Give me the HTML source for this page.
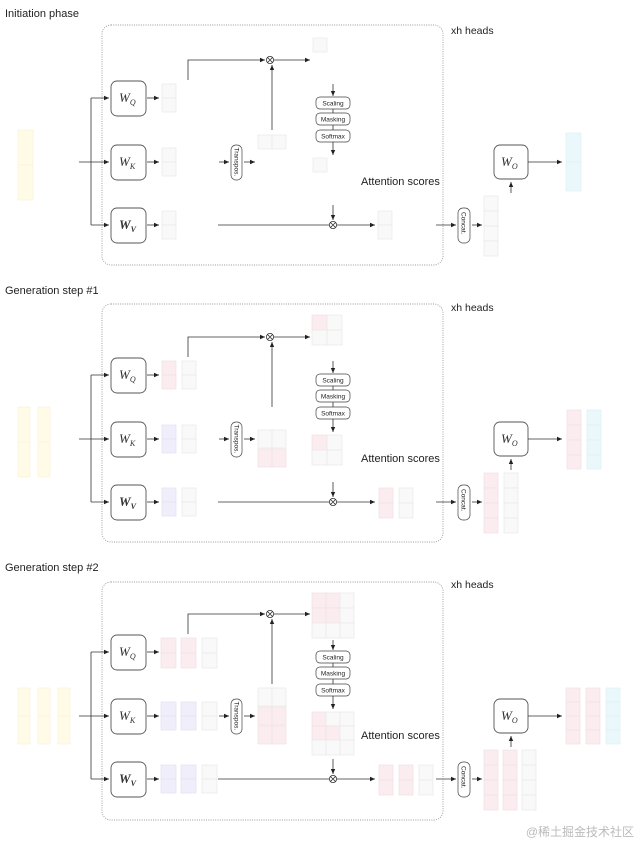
<!DOCTYPE html>
<html><head><meta charset="utf-8"><style>
html,body{margin:0;padding:0;background:#fff;}
svg{display:block}
text{font-family:"Liberation Sans",sans-serif;fill:#222}
.w{fill:#f9f9f9;stroke:#e8e8e8;stroke-width:.7}
.r{fill:#fbedef;stroke:#f0e2e4;stroke-width:.7}
.p{fill:#f0eefa;stroke:#e4e1f0;stroke-width:.7}
.y{fill:#fffbe6;stroke:#f8f3dc;stroke-width:.7}
.cy{fill:#eaf8fb;stroke:#dcf0f3;stroke-width:.7}
.ln{stroke:#333;stroke-width:.8;fill:none}
.bx{fill:#fff;stroke:#555;stroke-width:.9}
.sb{fill:#fff;stroke:#444;stroke-width:.7}
.dot{fill:none;stroke:#999;stroke-width:.9;stroke-dasharray:1,1.3}
.wt{font-family:"Liberation Serif",serif;font-style:italic;font-size:13px;fill:#333}
.st{font-size:6.5px}
</style></head><body>
<svg width="640" height="844" viewBox="0 0 640 844" xmlns="http://www.w3.org/2000/svg">
<defs>
<marker id="a" markerWidth="6" markerHeight="6" refX="5" refY="3" orient="auto" markerUnits="userSpaceOnUse"><path d="M0,0.8 L5,3 L0,5.2z" fill="#222"/></marker>
</defs>

<!-- ============ PANEL 1 ============ -->
<g>
<text x="5" y="17" font-size="11">Initiation phase</text>
<rect class="dot" x="102" y="25" width="341" height="240" rx="9"/>
<text x="451" y="34" font-size="10.5">xh heads</text>
<rect class="y" x="18" y="130" width="15" height="35"/><rect class="y" x="18" y="165" width="15" height="35"/>
<line class="ln" x1="79" y1="162" x2="109" y2="162" marker-end="url(#a)"/>
<line class="ln" x1="91" y1="98" x2="91" y2="225"/>
<line class="ln" x1="91" y1="98" x2="109" y2="98" marker-end="url(#a)"/>
<line class="ln" x1="91" y1="225" x2="109" y2="225" marker-end="url(#a)"/>
<rect class="bx" x="111" y="81" width="35" height="35" rx="6"/>
<rect class="bx" x="111" y="145" width="35" height="35" rx="6"/>
<rect class="bx" x="111" y="208" width="35" height="35" rx="6" stroke-width="1.4" stroke="#333"/>
<text class="wt" x="119" y="102">W<tspan font-size="8" dy="3">Q</tspan></text>
<text class="wt" x="119" y="166">W<tspan font-size="8" dy="3">K</tspan></text>
<text class="wt" x="119" y="229" font-weight="bold">W<tspan font-size="8" dy="3">V</tspan></text>
<line class="ln" x1="147" y1="98" x2="159" y2="98" marker-end="url(#a)"/>
<line class="ln" x1="147" y1="162" x2="159" y2="162" marker-end="url(#a)"/>
<line class="ln" x1="147" y1="225" x2="159" y2="225" marker-end="url(#a)"/>
<rect class="w" x="162" y="84" width="14" height="14"/><rect class="w" x="162" y="98" width="14" height="14"/>
<rect class="w" x="162" y="148" width="14" height="14"/><rect class="w" x="162" y="162" width="14" height="14"/>
<rect class="w" x="162" y="211" width="14" height="14"/><rect class="w" x="162" y="225" width="14" height="14"/>
<path class="ln" d="M188 80 V60 H265" marker-end="url(#a)"/>
<circle cx="270" cy="60" r="3.6" fill="#fff" stroke="#333" stroke-width=".8"/><path class="ln" d="M267.5 57.5 L272.5 62.5 M272.5 57.5 L267.5 62.5" stroke-width=".6"/>
<line class="ln" x1="274" y1="60" x2="310" y2="60" marker-end="url(#a)"/>
<rect class="w" x="313" y="38" width="14" height="14"/>
<line class="ln" x1="219" y1="162" x2="229" y2="162" marker-end="url(#a)"/>
<rect class="sb" x="231" y="145" width="11" height="35" rx="5"/>
<text class="st" transform="translate(234.5,147.5) rotate(90)">Transpos.</text>
<line class="ln" x1="244" y1="162" x2="255" y2="162" marker-end="url(#a)"/>
<rect class="w" x="258" y="135" width="14" height="14"/><rect class="w" x="272" y="135" width="14" height="14"/>
<line class="ln" x1="272" y1="130" x2="272" y2="65" marker-end="url(#a)"/>
<line class="ln" x1="333" y1="84" x2="333" y2="96" marker-end="url(#a)"/>
<line class="ln" x1="333" y1="109" x2="333" y2="130"/>
<rect class="sb" x="316" y="97" width="34" height="12" rx="4"/><text class="st" x="333" y="105.5" text-anchor="middle">Scaling</text>
<rect class="sb" x="316" y="113" width="34" height="12" rx="4"/><text class="st" x="333" y="121.5" text-anchor="middle">Masking</text>
<rect class="sb" x="316" y="130" width="34" height="12" rx="4"/><text class="st" x="333" y="138.5" text-anchor="middle">Softmax</text>
<line class="ln" x1="333" y1="142" x2="333" y2="155" marker-end="url(#a)"/>
<rect class="w" x="313" y="158" width="14" height="14"/>
<text x="361" y="185" font-size="11">Attention scores</text>
<line class="ln" x1="333" y1="205" x2="333" y2="220" marker-end="url(#a)"/>
<line class="ln" x1="218" y1="225" x2="329" y2="225"/>
<circle cx="333" cy="225" r="3.6" fill="#fff" stroke="#333" stroke-width=".8"/><path class="ln" d="M330.5 222.5 L335.5 227.5 M335.5 222.5 L330.5 227.5" stroke-width=".6"/>
<line class="ln" x1="337" y1="225" x2="375" y2="225" marker-end="url(#a)"/>
<rect class="w" x="378" y="211" width="14" height="14"/><rect class="w" x="378" y="225" width="14" height="14"/>
<line class="ln" x1="436" y1="225" x2="456" y2="225" marker-end="url(#a)"/>
<rect class="sb" x="458" y="208" width="12" height="35" rx="5"/>
<text class="st" transform="translate(461.5,212) rotate(90)">Concat.</text>
<line class="ln" x1="472" y1="225" x2="482" y2="225" marker-end="url(#a)"/>
<rect class="w" x="484" y="196" width="14" height="15"/><rect class="w" x="484" y="211" width="14" height="15"/><rect class="w" x="484" y="226" width="14" height="15"/><rect class="w" x="484" y="241" width="14" height="15"/>
<line class="ln" x1="511" y1="193" x2="511" y2="182" marker-end="url(#a)"/>
<rect class="bx" x="494" y="145" width="34" height="34" rx="6"/>
<text class="wt" x="501" y="166">W<tspan font-size="8" dy="3">O</tspan></text>
<line class="ln" x1="528" y1="162" x2="562" y2="162" marker-end="url(#a)"/>
<rect class="cy" x="566" y="133" width="15" height="29"/><rect class="cy" x="566" y="162" width="15" height="29"/>
</g>

<!-- ============ PANEL 2 ============ -->
<g transform="translate(0,277)">
<text x="5" y="17" font-size="11">Generation step #1</text>
<rect class="dot" x="102" y="27" width="341" height="238" rx="9"/>
<text x="451" y="34" font-size="10.5">xh heads</text>
<rect class="y" x="18" y="130" width="12" height="35"/><rect class="y" x="18" y="165" width="12" height="35"/>
<rect class="y" x="38" y="130" width="12" height="35"/><rect class="y" x="38" y="165" width="12" height="35"/>
<line class="ln" x1="79" y1="162" x2="109" y2="162" marker-end="url(#a)"/>
<line class="ln" x1="91" y1="98" x2="91" y2="225"/>
<line class="ln" x1="91" y1="98" x2="109" y2="98" marker-end="url(#a)"/>
<line class="ln" x1="91" y1="225" x2="109" y2="225" marker-end="url(#a)"/>
<rect class="bx" x="111" y="81" width="35" height="35" rx="6"/>
<rect class="bx" x="111" y="145" width="35" height="35" rx="6"/>
<rect class="bx" x="111" y="208" width="35" height="35" rx="6" stroke-width="1.4" stroke="#333"/>
<text class="wt" x="119" y="102">W<tspan font-size="8" dy="3">Q</tspan></text>
<text class="wt" x="119" y="166">W<tspan font-size="8" dy="3">K</tspan></text>
<text class="wt" x="119" y="229" font-weight="bold">W<tspan font-size="8" dy="3">V</tspan></text>
<line class="ln" x1="147" y1="98" x2="159" y2="98" marker-end="url(#a)"/>
<line class="ln" x1="147" y1="162" x2="159" y2="162" marker-end="url(#a)"/>
<line class="ln" x1="147" y1="225" x2="159" y2="225" marker-end="url(#a)"/>
<rect class="r" x="162" y="84" width="14" height="14"/><rect class="r" x="162" y="98" width="14" height="14"/>
<rect class="w" x="182" y="84" width="14" height="14"/><rect class="w" x="182" y="98" width="14" height="14"/>
<rect class="p" x="162" y="148" width="14" height="14"/><rect class="p" x="162" y="162" width="14" height="14"/>
<rect class="w" x="182" y="148" width="14" height="14"/><rect class="w" x="182" y="162" width="14" height="14"/>
<rect class="p" x="162" y="211" width="14" height="14"/><rect class="p" x="162" y="225" width="14" height="14"/>
<rect class="w" x="182" y="211" width="14" height="14"/><rect class="w" x="182" y="225" width="14" height="14"/>
<path class="ln" d="M188 80 V60 H265" marker-end="url(#a)"/>
<circle cx="270" cy="60" r="3.6" fill="#fff" stroke="#333" stroke-width=".8"/><path class="ln" d="M267.5 57.5 L272.5 62.5 M272.5 57.5 L267.5 62.5" stroke-width=".6"/>
<line class="ln" x1="274" y1="60" x2="310" y2="60" marker-end="url(#a)"/>
<rect class="r" x="312" y="38" width="15" height="15"/><rect class="w" x="327" y="38" width="15" height="15"/>
<rect class="w" x="312" y="53" width="15" height="15"/><rect class="w" x="327" y="53" width="15" height="15"/>
<line class="ln" x1="219" y1="162" x2="229" y2="162" marker-end="url(#a)"/>
<rect class="sb" x="231" y="145" width="11" height="35" rx="5"/>
<text class="st" transform="translate(234.5,147.5) rotate(90)">Transpos.</text>
<line class="ln" x1="244" y1="162" x2="255" y2="162" marker-end="url(#a)"/>
<rect class="w" x="258" y="153" width="14" height="18"/><rect class="w" x="272" y="153" width="14" height="18"/>
<rect class="r" x="258" y="172" width="14" height="18"/><rect class="r" x="272" y="172" width="14" height="18"/>
<line class="ln" x1="272" y1="130" x2="272" y2="65" marker-end="url(#a)"/>
<line class="ln" x1="333" y1="84" x2="333" y2="96" marker-end="url(#a)"/>
<line class="ln" x1="333" y1="109" x2="333" y2="130"/>
<rect class="sb" x="316" y="97" width="34" height="12" rx="4"/><text class="st" x="333" y="105.5" text-anchor="middle">Scaling</text>
<rect class="sb" x="316" y="113" width="34" height="12" rx="4"/><text class="st" x="333" y="121.5" text-anchor="middle">Masking</text>
<rect class="sb" x="316" y="130" width="34" height="12" rx="4"/><text class="st" x="333" y="138.5" text-anchor="middle">Softmax</text>
<line class="ln" x1="333" y1="142" x2="333" y2="155" marker-end="url(#a)"/>
<rect class="r" x="312" y="158" width="15" height="15"/><rect class="w" x="327" y="158" width="15" height="15"/>
<rect class="w" x="312" y="173" width="15" height="15"/><rect class="w" x="327" y="173" width="15" height="15"/>
<text x="361" y="185" font-size="11">Attention scores</text>
<line class="ln" x1="333" y1="205" x2="333" y2="220" marker-end="url(#a)"/>
<line class="ln" x1="218" y1="225" x2="329" y2="225"/>
<circle cx="333" cy="225" r="3.6" fill="#fff" stroke="#333" stroke-width=".8"/><path class="ln" d="M330.5 222.5 L335.5 227.5 M335.5 222.5 L330.5 227.5" stroke-width=".6"/>
<line class="ln" x1="337" y1="225" x2="375" y2="225" marker-end="url(#a)"/>
<rect class="r" x="379" y="211" width="14" height="15"/><rect class="r" x="379" y="226" width="14" height="15"/>
<rect class="w" x="399" y="211" width="14" height="15"/><rect class="w" x="399" y="226" width="14" height="15"/>
<line class="ln" x1="436" y1="225" x2="456" y2="225" marker-end="url(#a)"/>
<rect class="sb" x="458" y="208" width="12" height="35" rx="5"/>
<text class="st" transform="translate(461.5,212) rotate(90)">Concat.</text>
<line class="ln" x1="472" y1="225" x2="482" y2="225" marker-end="url(#a)"/>
<rect class="r" x="484" y="196" width="14" height="15"/><rect class="r" x="484" y="211" width="14" height="15"/><rect class="r" x="484" y="226" width="14" height="15"/><rect class="r" x="484" y="241" width="14" height="15"/>
<rect class="w" x="504" y="196" width="14" height="15"/><rect class="w" x="504" y="211" width="14" height="15"/><rect class="w" x="504" y="226" width="14" height="15"/><rect class="w" x="504" y="241" width="14" height="15"/>
<line class="ln" x1="511" y1="193" x2="511" y2="182" marker-end="url(#a)"/>
<rect class="bx" x="494" y="145" width="34" height="34" rx="6"/>
<text class="wt" x="501" y="166">W<tspan font-size="8" dy="3">O</tspan></text>
<line class="ln" x1="528" y1="162" x2="562" y2="162" marker-end="url(#a)"/>
<rect class="r" x="567" y="133" width="14" height="15"/><rect class="r" x="567" y="148" width="14" height="15"/><rect class="r" x="567" y="163" width="14" height="15"/><rect class="r" x="567" y="178" width="14" height="14"/>
<rect class="cy" x="587" y="133" width="14" height="15"/><rect class="cy" x="587" y="148" width="14" height="15"/><rect class="cy" x="587" y="163" width="14" height="15"/><rect class="cy" x="587" y="178" width="14" height="14"/>
</g>

<!-- ============ PANEL 3 ============ -->
<g transform="translate(0,554)">
<text x="5" y="17" font-size="11">Generation step #2</text>
<rect class="dot" x="102" y="28" width="341" height="238" rx="9"/>
<text x="451" y="34" font-size="10.5">xh heads</text>
<rect class="y" x="18" y="134" width="12" height="28"/><rect class="y" x="18" y="162" width="12" height="28"/>
<rect class="y" x="38" y="134" width="12" height="28"/><rect class="y" x="38" y="162" width="12" height="28"/>
<rect class="y" x="58" y="134" width="12" height="28"/><rect class="y" x="58" y="162" width="12" height="28"/>
<line class="ln" x1="79" y1="162" x2="109" y2="162" marker-end="url(#a)"/>
<line class="ln" x1="91" y1="98" x2="91" y2="225"/>
<line class="ln" x1="91" y1="98" x2="109" y2="98" marker-end="url(#a)"/>
<line class="ln" x1="91" y1="225" x2="109" y2="225" marker-end="url(#a)"/>
<rect class="bx" x="111" y="81" width="35" height="35" rx="6"/>
<rect class="bx" x="111" y="145" width="35" height="35" rx="6"/>
<rect class="bx" x="111" y="208" width="35" height="35" rx="6" stroke-width="1.4" stroke="#333"/>
<text class="wt" x="119" y="102">W<tspan font-size="8" dy="3">Q</tspan></text>
<text class="wt" x="119" y="166">W<tspan font-size="8" dy="3">K</tspan></text>
<text class="wt" x="119" y="229" font-weight="bold">W<tspan font-size="8" dy="3">V</tspan></text>
<line class="ln" x1="147" y1="98" x2="159" y2="98" marker-end="url(#a)"/>
<line class="ln" x1="147" y1="162" x2="159" y2="162" marker-end="url(#a)"/>
<line class="ln" x1="147" y1="225" x2="159" y2="225" marker-end="url(#a)"/>
<rect class="r" x="161" y="84" width="15" height="15"/><rect class="r" x="161" y="99" width="15" height="15"/>
<rect class="r" x="181" y="84" width="15" height="15"/><rect class="r" x="181" y="99" width="15" height="15"/>
<rect class="w" x="202" y="84" width="15" height="15"/><rect class="w" x="202" y="99" width="15" height="15"/>
<rect class="p" x="161" y="148" width="15" height="14"/><rect class="p" x="161" y="162" width="15" height="14"/>
<rect class="p" x="181" y="148" width="15" height="14"/><rect class="p" x="181" y="162" width="15" height="14"/>
<rect class="w" x="202" y="148" width="15" height="14"/><rect class="w" x="202" y="162" width="15" height="14"/>
<rect class="p" x="161" y="211" width="15" height="14"/><rect class="p" x="161" y="225" width="15" height="14"/>
<rect class="p" x="181" y="211" width="15" height="14"/><rect class="p" x="181" y="225" width="15" height="14"/>
<rect class="w" x="202" y="211" width="15" height="14"/><rect class="w" x="202" y="225" width="15" height="14"/>
<path class="ln" d="M188 80 V60 H265" marker-end="url(#a)"/>
<circle cx="270" cy="60" r="3.6" fill="#fff" stroke="#333" stroke-width=".8"/><path class="ln" d="M267.5 57.5 L272.5 62.5 M272.5 57.5 L267.5 62.5" stroke-width=".6"/>
<line class="ln" x1="274" y1="60" x2="310" y2="60" marker-end="url(#a)"/>
<rect class="r" x="312" y="39" width="14" height="15"/><rect class="r" x="326" y="39" width="14" height="15"/><rect class="w" x="340" y="39" width="14" height="15"/>
<rect class="r" x="312" y="54" width="14" height="15"/><rect class="r" x="326" y="54" width="14" height="15"/><rect class="w" x="340" y="54" width="14" height="15"/>
<rect class="w" x="312" y="69" width="14" height="15"/><rect class="w" x="326" y="69" width="14" height="15"/><rect class="w" x="340" y="69" width="14" height="15"/>
<line class="ln" x1="219" y1="162" x2="229" y2="162" marker-end="url(#a)"/>
<rect class="sb" x="231" y="145" width="11" height="35" rx="5"/>
<text class="st" transform="translate(234.5,147.5) rotate(90)">Transpos.</text>
<line class="ln" x1="244" y1="162" x2="255" y2="162" marker-end="url(#a)"/>
<rect class="w" x="258" y="134" width="14" height="18"/><rect class="w" x="272" y="134" width="14" height="18"/>
<rect class="r" x="258" y="153" width="14" height="18"/><rect class="r" x="272" y="153" width="14" height="18"/>
<rect class="r" x="258" y="172" width="14" height="18"/><rect class="r" x="272" y="172" width="14" height="18"/>
<line class="ln" x1="272" y1="130" x2="272" y2="65" marker-end="url(#a)"/>
<line class="ln" x1="333" y1="86" x2="333" y2="96" marker-end="url(#a)"/>
<line class="ln" x1="333" y1="109" x2="333" y2="130"/>
<rect class="sb" x="316" y="97" width="34" height="12" rx="4"/><text class="st" x="333" y="105.5" text-anchor="middle">Scaling</text>
<rect class="sb" x="316" y="113" width="34" height="12" rx="4"/><text class="st" x="333" y="121.5" text-anchor="middle">Masking</text>
<rect class="sb" x="316" y="130" width="34" height="12" rx="4"/><text class="st" x="333" y="138.5" text-anchor="middle">Softmax</text>
<line class="ln" x1="333" y1="142" x2="333" y2="155" marker-end="url(#a)"/>
<rect class="r" x="312" y="158" width="14" height="14"/><rect class="w" x="326" y="158" width="14" height="14"/><rect class="w" x="340" y="158" width="14" height="14"/>
<rect class="r" x="312" y="172" width="14" height="14"/><rect class="r" x="326" y="172" width="14" height="14"/><rect class="w" x="340" y="172" width="14" height="14"/>
<rect class="w" x="312" y="186" width="14" height="15"/><rect class="w" x="326" y="186" width="14" height="15"/><rect class="w" x="340" y="186" width="14" height="15"/>
<text x="361" y="185" font-size="11">Attention scores</text>
<line class="ln" x1="333" y1="205" x2="333" y2="220" marker-end="url(#a)"/>
<line class="ln" x1="218" y1="225" x2="329" y2="225"/>
<circle cx="333" cy="225" r="3.6" fill="#fff" stroke="#333" stroke-width=".8"/><path class="ln" d="M330.5 222.5 L335.5 227.5 M335.5 222.5 L330.5 227.5" stroke-width=".6"/>
<line class="ln" x1="337" y1="225" x2="375" y2="225" marker-end="url(#a)"/>
<rect class="r" x="379" y="211" width="14" height="15"/><rect class="r" x="379" y="226" width="14" height="15"/>
<rect class="r" x="399" y="211" width="14" height="15"/><rect class="r" x="399" y="226" width="14" height="15"/>
<rect class="w" x="419" y="211" width="14" height="15"/><rect class="w" x="419" y="226" width="14" height="15"/>
<line class="ln" x1="436" y1="225" x2="456" y2="225" marker-end="url(#a)"/>
<rect class="sb" x="458" y="208" width="12" height="35" rx="5"/>
<text class="st" transform="translate(461.5,212) rotate(90)">Concat.</text>
<line class="ln" x1="472" y1="225" x2="482" y2="225" marker-end="url(#a)"/>
<rect class="r" x="484" y="196" width="14" height="15"/><rect class="r" x="484" y="211" width="14" height="15"/><rect class="r" x="484" y="226" width="14" height="15"/><rect class="r" x="484" y="241" width="14" height="15"/>
<rect class="r" x="503" y="196" width="14" height="15"/><rect class="r" x="503" y="211" width="14" height="15"/><rect class="r" x="503" y="226" width="14" height="15"/><rect class="r" x="503" y="241" width="14" height="15"/>
<rect class="w" x="522" y="196" width="14" height="15"/><rect class="w" x="522" y="211" width="14" height="15"/><rect class="w" x="522" y="226" width="14" height="15"/><rect class="w" x="522" y="241" width="14" height="15"/>
<line class="ln" x1="511" y1="193" x2="511" y2="182" marker-end="url(#a)"/>
<rect class="bx" x="494" y="145" width="34" height="34" rx="6"/>
<text class="wt" x="501" y="166">W<tspan font-size="8" dy="3">O</tspan></text>
<line class="ln" x1="528" y1="162" x2="562" y2="162" marker-end="url(#a)"/>
<rect class="r" x="566" y="134" width="14" height="14"/><rect class="r" x="566" y="148" width="14" height="14"/><rect class="r" x="566" y="162" width="14" height="14"/><rect class="r" x="566" y="176" width="14" height="14"/>
<rect class="r" x="586" y="134" width="14" height="14"/><rect class="r" x="586" y="148" width="14" height="14"/><rect class="r" x="586" y="162" width="14" height="14"/><rect class="r" x="586" y="176" width="14" height="14"/>
<rect class="cy" x="606" y="134" width="14" height="14"/><rect class="cy" x="606" y="148" width="14" height="14"/><rect class="cy" x="606" y="162" width="14" height="14"/><rect class="cy" x="606" y="176" width="14" height="14"/>
</g>

<text x="634" y="836" font-size="12" text-anchor="end" style="font-family:'Liberation Sans','Noto Sans CJK SC',sans-serif;fill:#bbb">@稀土掘金技术社区</text>
</svg>
</body></html>
